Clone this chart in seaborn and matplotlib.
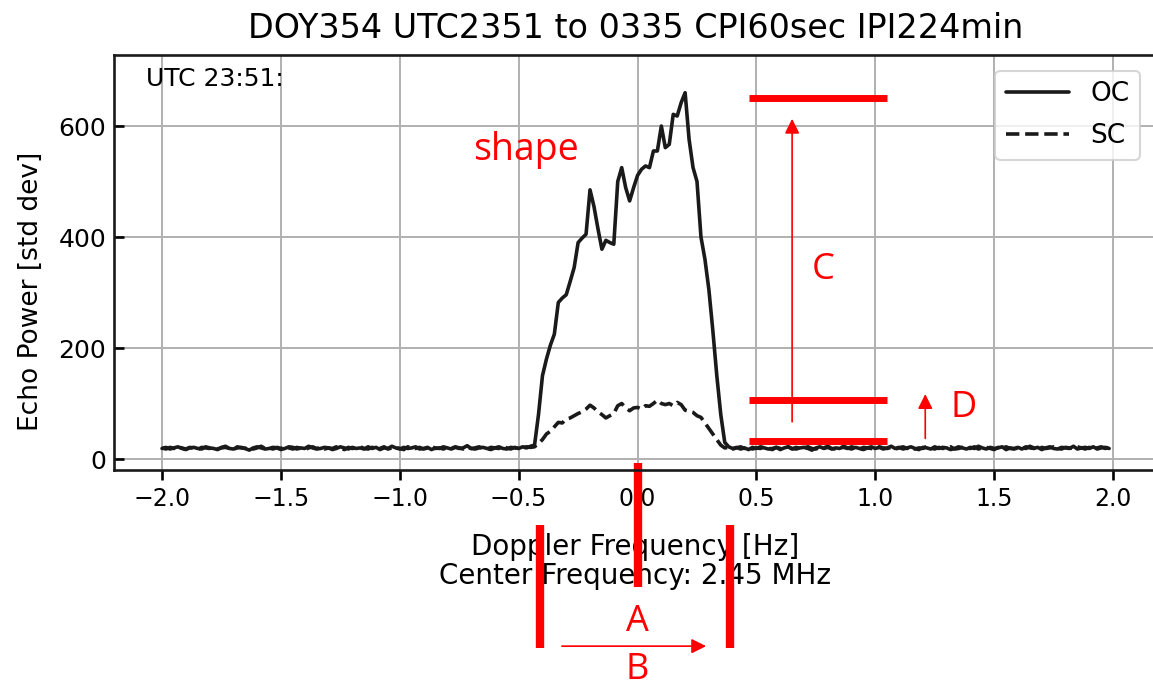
import numpy as np
import pandas as pd
import matplotlib.pyplot as plt
import seaborn as sns

# 240 Doppler bins, 1/60 Hz apart (CPI = 60 s), from -2.0 to 1.983 Hz
freq = np.arange(-120, 120) / 60.0

# OC channel [std dev]: noise left of the echo, echo (bins -26..22), noise right
oc_noise_left = [19, 21, 18, 20, 22, 19, 17, 20, 21, 19,
                 18, 22, 20, 19, 17, 21, 23, 19, 18, 20,
                 21, 19, 16, 20, 22, 20, 18, 19, 21, 20,
                 17, 19, 22, 21, 18, 20, 19, 23, 20, 18,
                 19, 21, 20, 17, 19, 22, 20, 18, 21, 19,
                 20, 18, 22, 19, 21, 17, 20, 19, 23, 20,
                 18, 21, 19, 20, 22, 18, 19, 21, 17, 20,
                 19, 22, 20, 18, 21, 19, 20, 24, 19, 18,
                 20, 21, 19, 17, 20, 22, 19, 18, 21, 20,
                 19, 22, 20, 23]
oc_echo = [25, 80, 150, 180, 205, 225, 282, 290, 296, 320,
           345, 390, 398, 405, 485, 455, 415, 378, 394, 390,
           387, 500, 525, 489, 465, 489, 511, 522, 528, 525,
           555, 555, 600, 561, 567, 621, 618, 642, 660, 576,
           525, 500, 400, 360, 305, 231, 150, 80, 30]
oc_noise_right = [22, 19, 21, 18, 20, 17, 21, 19, 22, 20,
                  18, 19, 21, 17, 20, 22, 19, 18, 20, 21,
                  19, 16, 20, 22, 19, 21, 18, 20, 19, 23,
                  20, 18, 21, 19, 17, 20, 22, 19, 21, 18,
                  20, 23, 19, 21, 18, 20, 22, 19, 17, 21,
                  20, 18, 22, 19, 21, 20, 17, 19, 22, 20,
                  18, 21, 19, 23, 20, 18, 21, 19, 20, 22,
                  17, 20, 19, 21, 18, 22, 20, 19, 21, 17,
                  20, 22, 19, 18, 21, 20, 19, 23, 18, 20,
                  21, 19, 22, 18, 20, 21, 19]

# SC channel [std dev]
sc_noise_left = [20, 18, 21, 19, 22, 20, 18, 21, 19, 17,
                 21, 20, 19, 22, 18, 20, 21, 19, 17, 22,
                 20, 19, 21, 18, 20, 23, 19, 20, 18, 21,
                 19, 22, 20, 18, 21, 19, 17, 20, 22, 19,
                 21, 18, 20, 19, 22, 20, 17, 21, 19, 20,
                 22, 19, 18, 21, 20, 19, 22, 18, 20, 21,
                 19, 17, 22, 20, 19, 21, 18, 20, 23, 19,
                 20, 18, 21, 19, 22, 20, 18, 21, 19, 20,
                 22, 19, 18, 21, 20, 19, 23, 20, 18, 21,
                 19, 20, 22, 21]
sc_echo = [22, 28, 35, 45, 50, 58, 66, 65, 72, 74,
           78, 82, 85, 90, 97, 92, 85, 80, 74, 78,
           82, 96, 100, 92, 87, 92, 93, 90, 96, 95,
           100, 106, 100, 98, 100, 96, 102, 98, 88, 86,
           84, 78, 75, 65, 55, 45, 35, 25, 20]
sc_noise_right = [21, 18, 20, 22, 19, 21, 18, 20, 19, 22,
                  20, 17, 21, 19, 20, 22, 18, 21, 19, 20,
                  22, 19, 18, 21, 20, 23, 19, 18, 20, 21,
                  19, 22, 20, 18, 21, 20, 19, 17, 22, 20,
                  19, 21, 18, 20, 22, 19, 21, 18, 20, 19,
                  23, 20, 18, 21, 19, 20, 22, 18, 19, 21,
                  20, 19, 22, 18, 20, 21, 19, 17, 21, 20,
                  22, 19, 18, 20, 21, 19, 23, 20, 18, 21,
                  19, 20, 22, 19, 18, 21, 20, 19, 22, 20,
                  18, 21, 19, 20, 22, 19, 21]

# hand-drawn markup levels (std dev) and Doppler positions (Hz)
peak_level = 650
sc_level = 107
noise_level = 33
echo_edges = [-0.41, 0.39]
echo_center = 0.0

sns.set_theme(style='ticks', context='talk')
plt.rcParams['font.family'] = ['DejaVu Sans']
for k in ['text.color', 'axes.labelcolor', 'xtick.color', 'ytick.color']:
    plt.rcParams[k] = 'black'

df = pd.DataFrame({
    'freq': freq,
    'OC': oc_noise_left + oc_echo + oc_noise_right,
    'SC': sc_noise_left + sc_echo + sc_noise_right,
})

fig = plt.figure(figsize=(11.53, 6.87), dpi=100)
ax = fig.add_axes([0.0993, 0.3157, 0.9032, 0.6043])

sns.lineplot(data=df, x='freq', y='OC', color='k', linewidth=2.6, label='OC', ax=ax)
sns.lineplot(data=df, x='freq', y='SC', color='k', linewidth=2.6, linestyle='--',
             label='SC', ax=ax)

ax.set_xlim(-2.2, 2.18)
ax.set_ylim(-20, 728)
ax.set_xticks([-2.0, -1.5, -1.0, -0.5, 0.0, 0.5, 1.0, 1.5, 2.0])
ax.set_yticks([0, 200, 400, 600])
ax.grid(True, color='#b0b0b0', lw=1.4)
for s in ax.spines.values():
    s.set_linewidth(1.9)
    s.set_color('k')
ax.tick_params(axis='x', direction='out', length=7, width=1.9, labelsize=17, pad=5)
ax.tick_params(axis='y', direction='in', length=7, width=1.9, labelsize=18, pad=6)

ax.set_title('DOY354 UTC2351 to 0335 CPI60sec IPI224min', fontsize=24, pad=12)
ax.set_xlabel('Doppler Frequency [Hz]\nCenter Frequency: 2.45 MHz', fontsize=20,
              labelpad=16, linespacing=1.05)
ax.set_ylabel('Echo Power [std dev]', fontsize=19)
ax.yaxis.set_label_coords(-0.068, 0.43)
ax.text(0.03, 0.97, 'UTC 23:51:', transform=ax.transAxes, fontsize=18,
        va='top', ha='left')
ax.legend(loc='upper right', fontsize=19, handlelength=2.4, labelspacing=0.6,
          fancybox=True, edgecolor='0.8', borderaxespad=0.6)

# red markup
red = '#ff0000'
mark = dict(family=['Open Sans', 'DejaVu Sans'], color=red)
ax.text(-0.69, 557, 'shape', fontsize=27, va='center', ha='left', **mark)
ax.hlines([peak_level, sc_level, noise_level], 0.47, 1.05, colors=red, lw=5)
ax.annotate('', xy=(0.65, 618), xytext=(0.65, 62),
            arrowprops=dict(arrowstyle='-|>', color=red, lw=1.2,
                            mutation_scale=22))
ax.text(0.78, 341, 'C', fontsize=26, va='center', ha='center', **mark)
ax.annotate('', xy=(1.21, 122), xytext=(1.21, 32),
            arrowprops=dict(arrowstyle='-|>', color=red, lw=1.2,
                            mutation_scale=22))
ax.text(1.37, 92, 'D', fontsize=26, va='center', ha='center', **mark)

tr = ax.get_xaxis_transform()
ax.plot([echo_center, echo_center], [0.017, -0.282], color=red, lw=6,
        transform=tr, clip_on=False, solid_capstyle='butt')
for e in echo_edges:
    ax.plot([e, e], [-0.132, -0.428], color=red, lw=6, transform=tr,
            clip_on=False, solid_capstyle='butt')
ax.text(echo_center, -0.366, 'A', fontsize=26, va='center', ha='center',
        transform=tr, **mark)
ax.annotate('', xy=(0.30, -0.424), xytext=(-0.33, -0.424), xycoords=tr,
            textcoords=tr, annotation_clip=False,
            arrowprops=dict(arrowstyle='-|>', color=red, lw=1.2,
                            mutation_scale=22))
ax.text(echo_center, -0.482, 'B', fontsize=26, va='center', ha='center',
        transform=tr, **mark)

fig.savefig('out.png', dpi=100)
